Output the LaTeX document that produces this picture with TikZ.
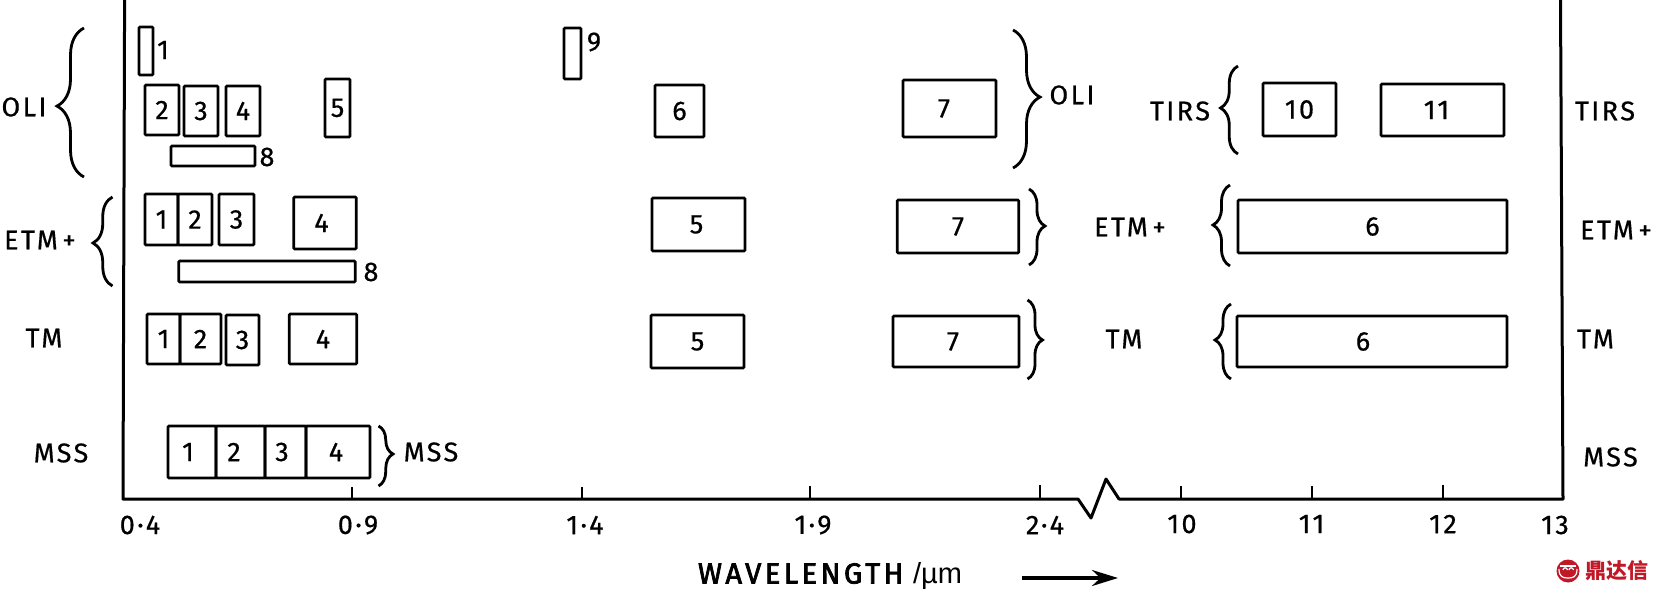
\documentclass[tikz,border=0pt]{standalone}
\usepackage{fontspec}
\setmainfont[LetterSpace=9,FakeBold=0.6]{Fira Sans}
\newfontfamily\titlefont[LetterSpace=12,FakeBold=2.5]{Fira Sans}
\newfontfamily\plainfont{Liberation Sans}
\newfontfamily\cjk{Noto Sans CJK SC}
\usetikzlibrary{arrows.meta,decorations.pathreplacing}
\definecolor{logored}{RGB}{192,24,38}

\begin{document}
\begin{tikzpicture}[
      x=1pt, y=-1pt,
      font=\fontsize{27}{31}\selectfont,
      line width=2.8pt,
      bandbox/.style 2 args={draw, rectangle, rounded corners=1pt, inner sep=0pt,
        minimum width=#1, minimum height=#2},
      curly/.style 2 args={decorate, decoration={brace, amplitude=#1, aspect=#2}},
      tick/.style={line width=2.2pt},
      tag/.style={inner sep=0pt}
  ]
  \useasboundingbox (0,0) rectangle (1658,594);

  % Frame with the break in the wavelength axis
  \draw[line width=3pt, line join=round] (124.6,0) -- (123,499) -- (1078,499) -- (1091,518)
    -- (1106,479) -- (1119,499) -- (1563,499) -- (1560.5,0);

  % Axis ticks
  \draw[tick] (352,487) -- (352,499);
  \draw[tick] (582,487) -- (582,499);
  \draw[tick] (810,486) -- (810,499);
  \draw[tick] (1040,485) -- (1040,499);
  \draw[tick] (1181,486) -- (1181,499);
  \draw[tick] (1312,486) -- (1312,499);
  \draw[tick] (1443,485) -- (1443,499);

  % Axis numbers
  \node[tag] (num04) at (140,525) {0·4};
  \node[tag] (num09) at (358,525) {0·9};
  \node[tag] (num14) at (585,525) {1·4};
  \node[tag] (num19) at (813,525) {1·9};
  \node[tag] (num24) at (1045,525) {2·4};
  \node[tag] (num10) at (1182,524) {10};
  \node[tag] (num11) at (1311.5,524) {11};
  \node[tag] (num12) at (1443,524) {12};
  \node[tag] (num13) at (1555,525) {13};

  % Axis title and its arrow
  \node[tag] (title) at (830,576) {\fontsize{29}{33}\titlefont WAVELENGTH\,\,{\plainfont /µm}};
  \coordinate (arrowtail) at (1022,578);
  \coordinate (arrowhead) at (1118,578);
  \draw[line width=3.2pt, -{Stealth[length=26pt,width=16pt]}] (arrowtail) -- (arrowhead);

  % OLI bands
  \node[bandbox={14}{48}] (oli1) at (146,51) {};
  \node[bandbox={34}{50}] (oli2) at (162,110) {2};
  \node[bandbox={34}{50}] (oli3) at (201,111) {3};
  \node[bandbox={34}{50}] (oli4) at (243,111) {4};
  \node[bandbox={25}{58}] (oli5) at (337.5,108) {5};
  \node[bandbox={49}{52}] (oli6) at (679.5,111) {6};
  \node[bandbox={93}{57}] (oli7) at (949.5,108.5) {\kern-11pt 7};
  \node[bandbox={84}{20}] (oli8) at (213,156) {};
  \node[bandbox={17}{51}] (oli9) at (572.5,53.5) {};
  \node[tag] (oli1tag) at (163,50) {1};
  \node[tag] (oli8tag) at (267,157) {8};
  \node[tag] (oli9tag) at (594,42) {9};

  % TIRS bands
  \node[bandbox={73}{53}] (tirs10) at (1299.5,109.5) {10};
  \node[bandbox={123}{52}] (tirs11) at (1442.5,110) {\kern-12pt 11};

  % ETM+ bands
  \node[bandbox={33}{51}] (etm1) at (161.5,219.5) {1};
  \node[bandbox={34}{51}] (etm2) at (195,219.5) {2};
  \node[bandbox={35}{51}] (etm3) at (236.5,219.5) {3};
  \node[bandbox={62.5}{52}] (etm4) at (325,223) {\kern-7pt 4};
  \node[bandbox={93}{53}] (etm5) at (698.5,224.5) {\kern-4pt 5};
  \node[bandbox={121.5}{53}] (etm7) at (958,226.5) {7};
  \node[bandbox={176.5}{21}] (etm8) at (267,271.5) {};
  \node[bandbox={269}{53}] (etm6) at (1372.5,226.5) {6};
  \node[tag] (etm8tag) at (371,272) {8};

  % TM bands
  \node[bandbox={33}{50}] (tm1) at (163.5,339) {1};
  \node[bandbox={41}{50}] (tm2) at (200.5,339) {2};
  \node[bandbox={33}{50}] (tm3) at (242.5,340) {3};
  \node[bandbox={67.5}{50}] (tm4) at (323,339) {4};
  \node[bandbox={93}{53}] (tm5) at (697.5,341.5) {5};
  \node[bandbox={126}{51}] (tm7) at (956,341.5) {\kern-6pt 7};
  \node[bandbox={270}{51}] (tm6) at (1372,341.5) {\kern-18pt 6};

  % MSS bands
  \node[bandbox={48}{52}] (mss1) at (192,452) {\kern-8pt 1};
  \node[bandbox={49}{52}] (mss2) at (240.5,452) {\kern-13pt 2};
  \node[bandbox={41}{52}] (mss3) at (285.5,452) {\kern-7pt 3};
  \node[bandbox={64}{52}] (mss4) at (338,452) {\kern-4pt 4};

  % Braces
  \draw[curly={27}{.476}] (84,177) -- (84,28);
  \draw[curly={19.5}{.483}] (112.5,286) -- (112.5,197);
  \draw[curly={27}{.486}] (1013,30) -- (1013,168);
  \draw[curly={16}{.487}] (1029,189) -- (1029,265);
  \draw[curly={15}{.506}] (1027.5,300) -- (1027.5,379);
  \draw[curly={14.5}{.467}] (378.5,426) -- (378.5,486);
  \draw[curly={17.5}{.523}] (1238,154) -- (1238,66);
  \draw[curly={17}{.506}] (1230,266) -- (1230,185);
  \draw[curly={16}{.52}] (1231,379) -- (1231,304);

  % Sensor names, left side
  \node[tag] (oliL) at (24,107) {OLI};
  \node[tag] (etmL) at (40,240) {ETM\,+};
  \node[tag] (tmL) at (44,338) {TM};
  \node[tag] (mssL) at (61,453) {MSS};

  % Sensor names inside the frame
  \node[tag] (mssM) at (431,452) {MSS};
  \node[tag] (oliM) at (1072,95) {OLI};
  \node[tag] (tirsM) at (1180,111) {TIRS};
  \node[tag] (etmM) at (1130,227) {ETM\,+};
  \node[tag] (tmM) at (1124,339) {TM};

  % Sensor names, right side
  \node[tag] (tirsR) at (1605,111) {TIRS};
  \node[tag] (etmR) at (1616,230) {ETM\,+};
  \node[tag] (tmR) at (1595.5,339) {TM};
  \node[tag] (mssR) at (1610.5,457) {MSS};

  % Logo
  \fill[logored] (1568,571) circle (11.5);
  \draw[white, line width=1.2pt] (1560,566) -- (1576,566);
  \draw[white, line width=1.2pt] (1563,570) arc (180:0:2.2 and -2.2);
  \draw[white, line width=1.2pt] (1569,570) arc (180:0:2.2 and -2.2);
  \draw[white, line width=1.2pt] (1559,569) .. controls (1559,577) and (1563,578) .. (1568,578)
    .. controls (1573,578) and (1577,577) .. (1577,569);
  \node[tag, text=logored] (logotext) at (1617,571)
    {\fontsize{21}{23}\cjk\bfseries 鼎达信};

\end{tikzpicture}
\end{document}
